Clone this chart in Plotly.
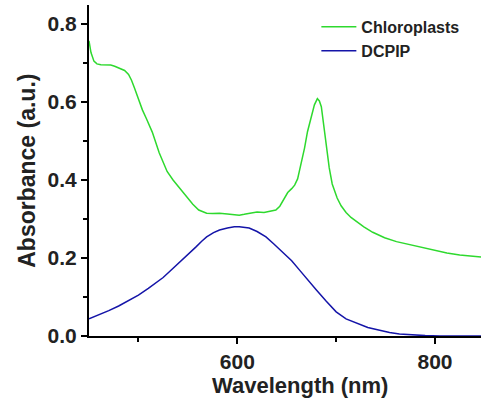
import plotly.graph_objects as go

# Absorption spectra: chloroplast suspension and DCPIP dye
chloro_nm = [450, 452, 455, 458, 462, 467, 472, 476, 479, 482, 486, 490, 493, 496,
             500, 504, 508, 514, 521, 529, 535, 541, 549, 555, 561, 569, 575, 582,
             590, 596, 602, 607, 612, 620, 627, 632, 639, 643, 646, 651, 655, 658,
             661, 664, 668, 671, 675, 678, 681, 683, 685, 687, 690, 693, 696, 701,
             705, 710, 715, 720, 728, 737, 749, 761, 775, 788, 800, 812, 825, 837, 850]
chloro_abs = [0.757, 0.727, 0.705, 0.698, 0.696, 0.695, 0.695, 0.692, 0.689, 0.686,
              0.681, 0.671, 0.656, 0.636, 0.605, 0.580, 0.558, 0.523, 0.470, 0.422,
              0.400, 0.382, 0.357, 0.338, 0.323, 0.315, 0.314, 0.315, 0.313, 0.311,
              0.310, 0.312, 0.315, 0.318, 0.317, 0.319, 0.323, 0.333, 0.347, 0.368,
              0.378, 0.387, 0.403, 0.434, 0.482, 0.524, 0.566, 0.593, 0.609, 0.603,
              0.588, 0.545, 0.488, 0.431, 0.390, 0.354, 0.334, 0.317, 0.304, 0.294,
              0.280, 0.266, 0.252, 0.242, 0.234, 0.226, 0.219, 0.213, 0.208, 0.205, 0.202]

dcpip_nm = [450, 460, 470, 480, 490, 500, 510, 518, 525, 531, 538, 544, 551, 558,
            564, 569, 576, 582, 590, 597, 602, 612, 620, 629, 637, 646, 655, 663,
            671, 680, 690, 700, 710, 721, 732, 744, 754, 764, 775, 790, 805, 850]
dcpip_abs = [0.044, 0.054, 0.065, 0.077, 0.090, 0.105, 0.122, 0.136, 0.150, 0.164,
             0.180, 0.195, 0.212, 0.228, 0.243, 0.254, 0.265, 0.272, 0.277, 0.280,
             0.280, 0.277, 0.268, 0.254, 0.236, 0.215, 0.193, 0.169, 0.144, 0.118,
             0.089, 0.062, 0.044, 0.033, 0.022, 0.015, 0.009, 0.005, 0.003, 0.001,
             0.000, 0.000]

FONT = "Arial, Liberation Sans, sans-serif"

fig = go.Figure()
fig.add_trace(go.Scatter(x=chloro_nm, y=chloro_abs, mode="lines", name="Chloroplasts",
                         line=dict(color="#2ED92E", width=1.5)))
fig.add_trace(go.Scatter(x=dcpip_nm, y=dcpip_abs, mode="lines", name="DCPIP",
                         line=dict(color="#1414A8", width=1.5)))

axis_common = dict(
    showline=True, linewidth=2, linecolor="black", mirror=False,
    ticks="outside", ticklen=6, tickwidth=2, tickcolor="black",
    showgrid=False, zeroline=False,
    tickfont=dict(family=FONT, size=21, color="#222", weight="bold"),
)

fig.update_xaxes(range=[450, 846.5], tick0=400, dtick=200,
                 minor=dict(ticks="outside", ticklen=4, tickwidth=2,
                            tickcolor="black", tick0=400, dtick=100, showgrid=False),
                 **axis_common)
fig.update_yaxes(range=[0, 0.849], tick0=0, dtick=0.2, tickformat=".1f",
                 minor=dict(ticks="outside", ticklen=4, tickwidth=2,
                            tickcolor="black", tick0=0, dtick=0.1, showgrid=False),
                 **axis_common)

fig.add_annotation(text="Wavelength (nm)", xref="paper", yref="paper",
                   x=0.538, y=0, xanchor="center", yanchor="middle", yshift=-49,
                   showarrow=False,
                   font=dict(family=FONT, size=22, color="#222", weight="bold"))
fig.add_annotation(text="Absorbance (a.u.)", xref="paper", yref="paper",
                   x=-0.16, y=0.5, xanchor="center", yanchor="middle",
                   textangle=-90, showarrow=False,
                   font=dict(family=FONT, size=23, color="#222", weight="bold"))

fig.update_layout(
    width=481, height=402,
    margin=dict(l=89, r=0, t=5, b=66, pad=0),
    plot_bgcolor="white", paper_bgcolor="white",
    showlegend=True,
    legend=dict(x=0.58, y=0.985, xanchor="left", yanchor="top",
                bgcolor="rgba(0,0,0,0)", borderwidth=0, itemwidth=35,
                font=dict(family=FONT, size=16, color="#222", weight="bold"),
                tracegroupgap=0),
)

fig.write_html("out.html")
